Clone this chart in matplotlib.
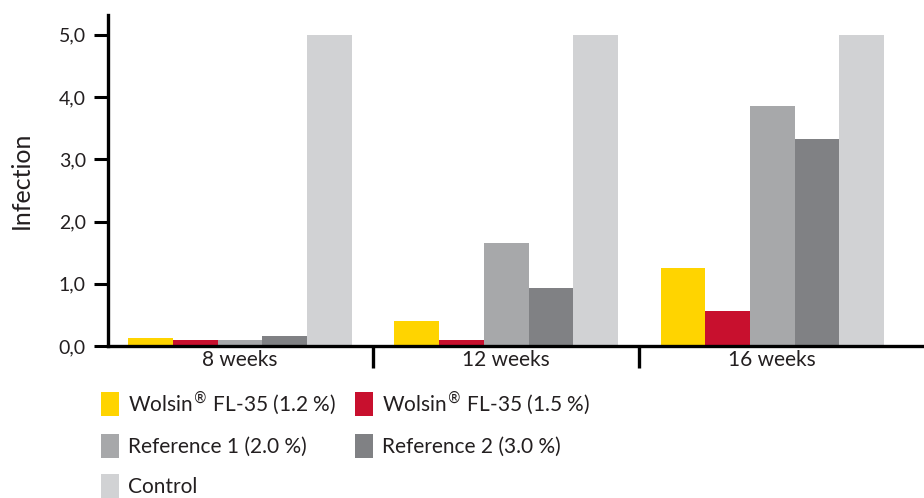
import numpy as np
import matplotlib
matplotlib.use('Agg')
import matplotlib.pyplot as plt
from matplotlib.patches import Patch

plt.rcParams['font.family'] = ['Lato', 'DejaVu Sans']

# data
groups = ['8 weeks', '12 weeks', '16 weeks']
series = ['Wolsin$^{\\circledR}$ FL-35 (1.2 %)', 'Wolsin$^{\\circledR}$ FL-35 (1.5 %)',
          'Reference 1 (2.0 %)', 'Reference 2 (3.0 %)', 'Control']
wolsin_12 = [0.13, 0.41, 1.25]
wolsin_15 = [0.10, 0.10, 0.56]
ref_1 = [0.10, 1.66, 3.86]
ref_2 = [0.17, 0.94, 3.33]
control = [5.0, 5.0, 5.0]
yticks = [0, 1, 2, 3, 4, 5]
yticklabels = ['0,0', '1,0', '2,0', '3,0', '4,0', '5,0']

colors = ['#FFD400', '#C8102E', '#A7A8AA', '#808184', '#D1D2D4']
txt = '#231F20'

fig = plt.figure(figsize=(9.24, 4.98), dpi=100)
ax = fig.add_axes([0.117, 0.305, 0.883, 0.665])

x = np.arange(len(groups))
w = 0.168
allvals = [wolsin_12, wolsin_15, ref_1, ref_2, control]
for i, vals in enumerate(allvals):
    ax.bar(x + (i - 2) * w, vals, w, color=colors[i], label=series[i], zorder=2)

ax.set_xlim(-0.496, 2.57)
ax.set_ylim(0, 5.32)

for s in ['top', 'right']:
    ax.spines[s].set_visible(False)
for s in ['left', 'bottom']:
    ax.spines[s].set_linewidth(2.4)
    ax.spines[s].set_color('black')
    ax.spines[s].set_zorder(3)

ax.set_yticks(yticks)
ax.set_yticklabels(yticklabels, fontsize=14, color=txt)
ax.tick_params(axis='y', length=10, width=2.2, pad=6)

ax.set_xticks(x)
ax.set_xticklabels(groups, fontsize=15, color=txt)
ax.tick_params(axis='x', which='major', length=0, pad=3)
ax.set_xticks([0.5, 1.5], minor=True)
ax.tick_params(axis='x', which='minor', length=16, width=2.4)

ax.set_ylabel('Infection', fontsize=18, color=txt)
ax.yaxis.set_label_coords(-0.092, 0.5)

# legend filled column-wise, so order gives the row layout of the reference
order = [0, 2, 4, 1, 3]
handles = [Patch(facecolor=colors[i], edgecolor='none') for i in order]
labels = [series[i] for i in order]
fig.legend(handles, labels, ncol=2, loc='upper left',
           bbox_to_anchor=(0.109, 0.218), frameon=False,
           fontsize=15, handlelength=0.9, handleheight=1.35,
           handletextpad=0.4, labelspacing=0.8, columnspacing=0.9,
           borderaxespad=0, borderpad=0, labelcolor=txt)

fig.savefig('out.png', dpi=100)
